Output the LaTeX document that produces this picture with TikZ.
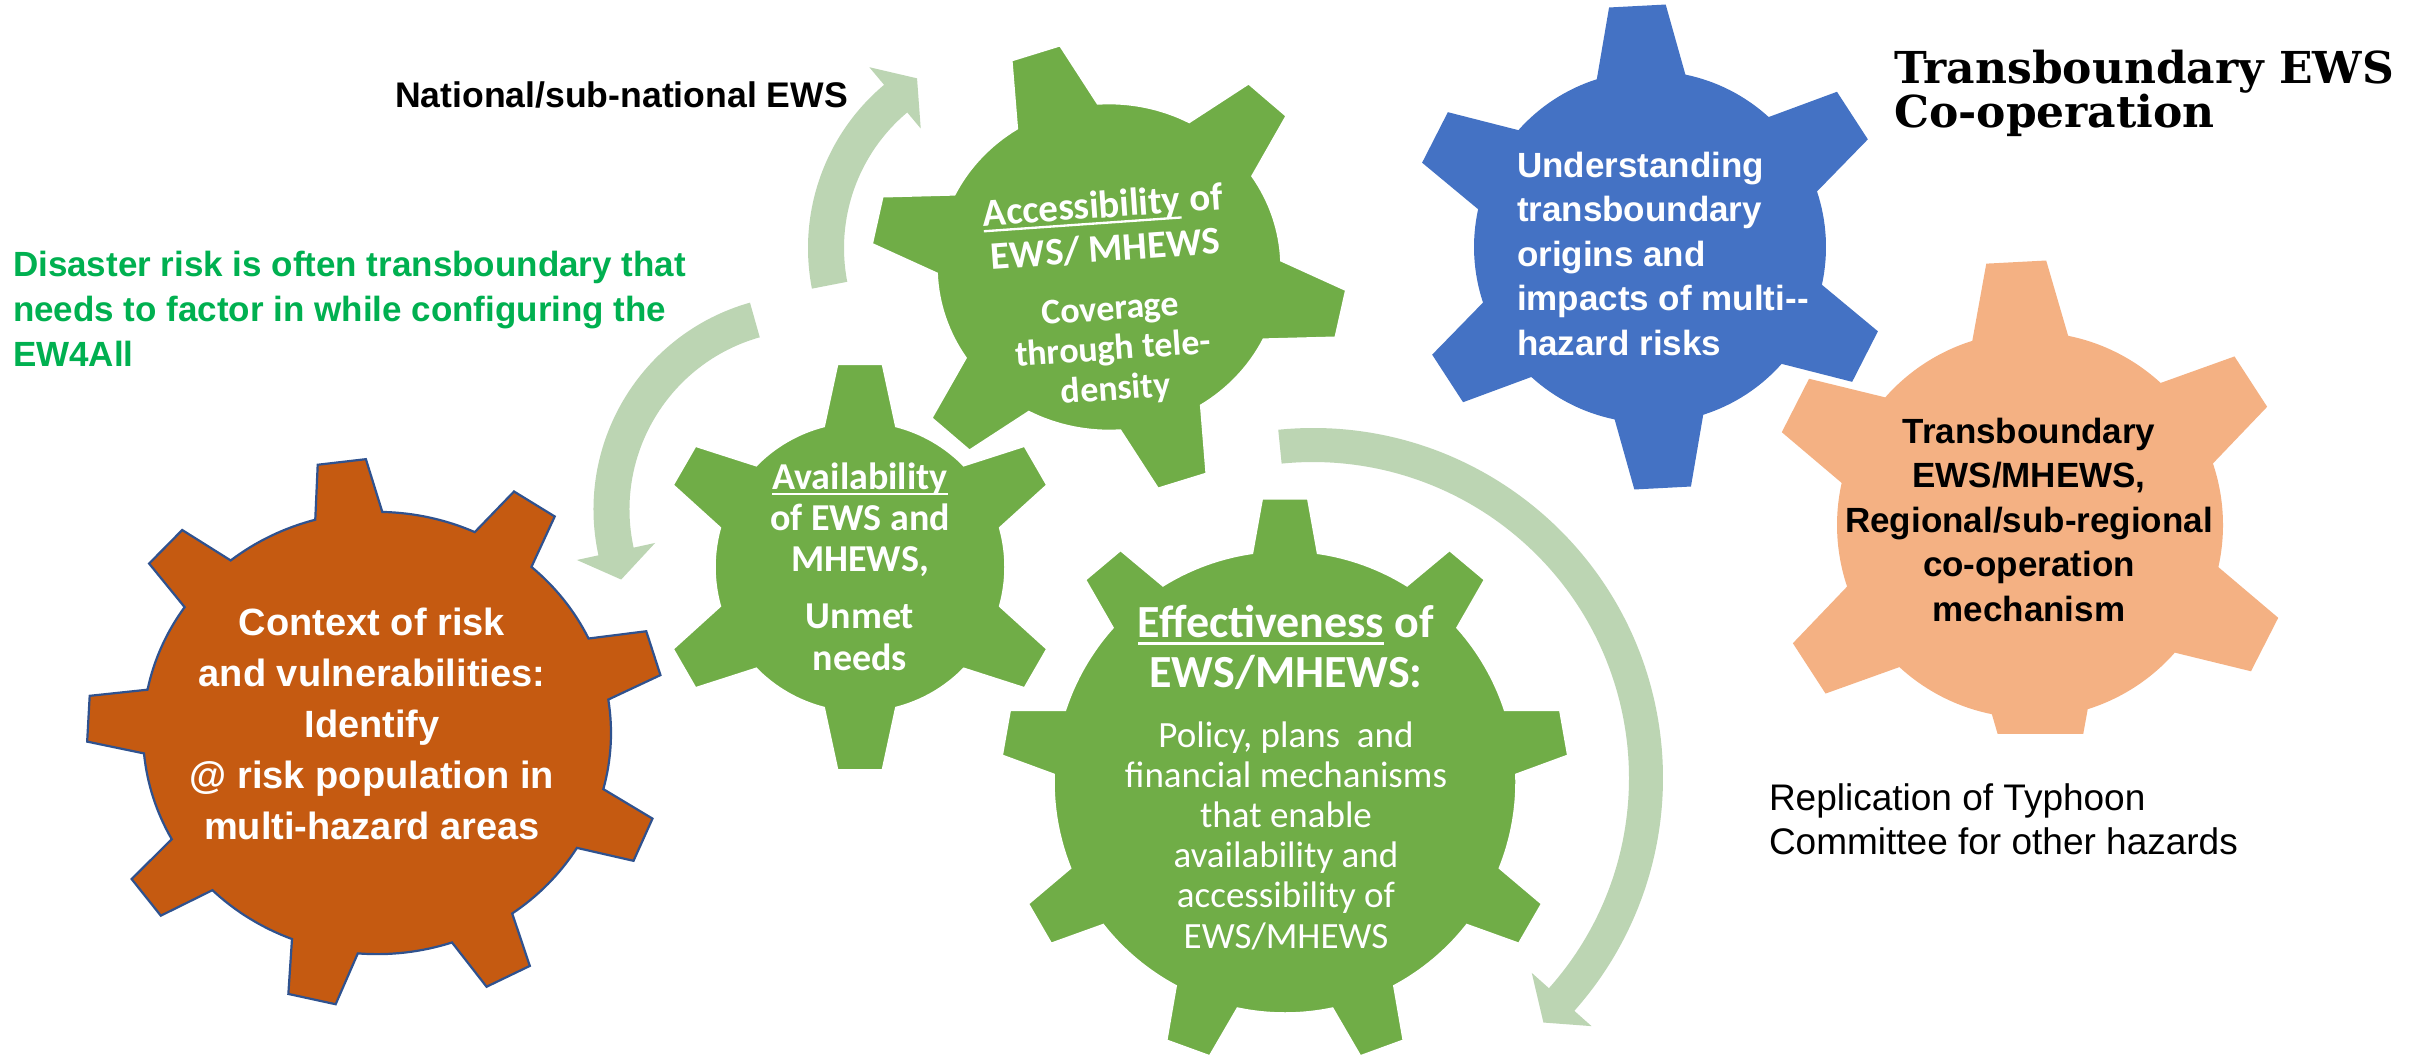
\documentclass[tikz,border=0pt]{standalone}
\usepackage{fontspec}
\setmainfont{Liberation Sans}
\newfontfamily\calfont{Carlito}
\newfontfamily\decofont{DejaVu Serif}
\definecolor{gorange}{HTML}{C55A11}
\definecolor{gline}{HTML}{2F528F}
\definecolor{ggreen}{HTML}{70AD47}
\definecolor{gblue}{HTML}{4472C4}
\definecolor{gpeach}{HTML}{F4B183}
\definecolor{arrowc}{HTML}{BCD5B3}
\definecolor{txtgreen}{HTML}{00B050}
\newcommand\myul[1]{\setbox0\hbox{#1}\rlap{\rule[-0.16em]{\wd0}{0.06em}}\box0\relax}
\tikzset{
  pics/gear/.style args={#1/#2/#3/#4/#5/#6}{code={
    \path[pic actions] ({#2-#5}:#3pt)
      \foreach \k in {1,...,#1}{
        -- ({#2+(\k-1)*360/#1-#6}:#4pt)
        -- ({#2+(\k-1)*360/#1+#6}:#4pt)
        -- ({#2+(\k-1)*360/#1+#5}:#3pt)
        arc[start angle={#2+(\k-1)*360/#1+#5}, end angle={#2+\k*360/#1-#5}, radius=#3pt]
      } -- cycle;
  }},
  txt/.style={inner sep=0pt, outer sep=0pt, align=center},
  greengear/.style={fill=ggreen, draw=white, line width=1.5pt},
  arrowfill/.style={fill=arrowc}
}
\begin{document}
\begin{tikzpicture}[x=1pt,y=-1pt]
\useasboundingbox (0,0) rectangle (2432,1058);
\clip (0,0) rectangle (2432,1058);
\fill[white] (0,0) rectangle (2432,1058);

% curved arrows
\begin{scope}[shift={(1021,248)}]
\fill[arrowfill] (191:213pt) arc[start angle=191,end angle=130,radius=213pt]
  -- (130:236pt) -- (121.5:199pt) -- (130:156pt) -- (130:177pt)
  arc[start angle=130,end angle=191,radius=177pt] -- cycle;
\end{scope}
\begin{scope}[shift={(808.5,509.5)}]
\fill[arrowfill] (105.8:215pt) arc[start angle=105.8,end angle=192.3,radius=215pt]
  -- (192.3:237pt) -- (200.5:200pt) -- (192.3:157pt) -- (192.3:179pt)
  arc[start angle=192.3,end angle=105.8,radius=179pt] -- cycle;
\end{scope}
\begin{scope}[shift={(1313,778)}]
\fill[arrowfill] (95.7:350pt) arc[start angle=95.7,end angle=-41.7,radius=350pt]
  -- (-41.7:373pt) -- (-46.7:336pt) -- (-41.7:293pt) -- (-41.7:316pt)
  arc[start angle=-41.7,end angle=95.7,radius=316pt] -- cycle;
\end{scope}

% gears
\pic[fill=gorange, draw=gline, line width=2.2pt, yscale=0.945] at (377,733) {gear=9/97/234/290/8.3/4.8};
\pic[greengear] at (860,567) {gear=6/90/145/204/14.3/6.3};
\pic[greengear, yscale=0.95] at (1109,267) {gear=6/108/172/238/14.2/6.1};
\pic[greengear] at (1285,782) {gear=9/90/231/284/8.1/4.6};
\pic[fill=gblue] at (1650,247) {gear=6/93/176/243/14.6/6.7};
\begin{scope}
\clip (1700,0) rectangle (2432,733);
\pic[fill=gpeach] at (2030,525) {gear=6/93/193/265/14.4/6.5};
\end{scope}

% texts
\node[txt, anchor=base west, font=\bfseries\fontsize{35.6pt}{40pt}\selectfont] (national) at (395,107) {National/sub-national EWS};
\node[txt, align=left, anchor=north west, text=txtgreen, font=\bfseries\fontsize{35pt}{45pt}\selectfont] (disaster) at (13,251) {Disaster risk is often transboundary that\\needs to factor in while configuring the\\EW4All};
\node[txt, align=left, anchor=north west, font=\decofont\bfseries\fontsize{44pt}{42pt}\selectfont] (title) at (1894,50) {Transboundary EWS\\Co-operation};
\node[txt, text=white, font=\bfseries\fontsize{38pt}{50.8pt}\selectfont] (context) at (372,724) {Context of risk\\and vulnerabilities:\\Identify\\@ risk population in\\multi-hazard areas};
\node[txt, text=white, font=\calfont\bfseries\fontsize{38pt}{41pt}\selectfont] (avhead) at (860,519.5) {\myul{Availability}\\of EWS and\\MHEWS,};
\node[txt, text=white, font=\calfont\bfseries\fontsize{38pt}{42pt}\selectfont] (avbody) at (860,637) {Unmet\\needs};
\node[txt, rotate=4, text=white, font=\calfont\bfseries\fontsize{39pt}{44pt}\selectfont] (acchead) at (1104,227) {\myul{Accessibility} of\\EWS/ MHEWS};
\node[txt, rotate=4, text=white, font=\calfont\bfseries\fontsize{36pt}{40pt}\selectfont] (accbody) at (1113,351) {Coverage\\through tele-\\density};
\node[txt, text=white, font=\calfont\bfseries\fontsize{46pt}{50pt}\selectfont] (effhead) at (1286,647) {\myul{Effectiveness} of\\EWS/MHEWS:};
\node[txt, text=white, font=\calfont\fontsize{37pt}{40.2pt}\selectfont] (effbody) at (1286,835.5) {Policy, plans~ and\\financial mechanisms\\that enable\\availability and\\accessibility of\\EWS/MHEWS};
\node[txt, align=left, anchor=north west, text=white, font=\bfseries\fontsize{35pt}{44.5pt}\selectfont] (understanding) at (1517,152) {Understanding\\transboundary\\origins and\\impacts of multi-{}-\\hazard risks};
\node[txt, anchor=north, font=\bfseries\fontsize{35pt}{44.5pt}\selectfont] (transb) at (2029,418) {Transboundary\\EWS/MHEWS,\\Regional/sub-regional\\co-operation\\mechanism};
\node[txt, align=left, anchor=north west, font=\fontsize{37pt}{44pt}\selectfont] (replication) at (1769,784) {Replication of Typhoon\\Committee for other hazards};
\end{tikzpicture}
\end{document}
